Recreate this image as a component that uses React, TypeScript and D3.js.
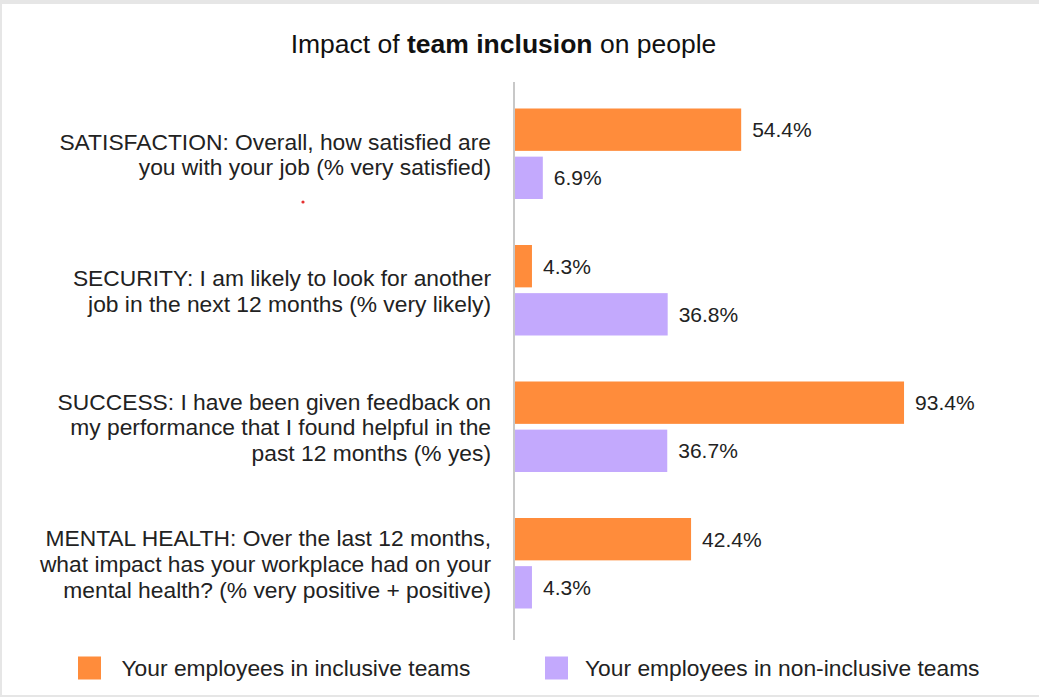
import React from "react";
import * as d3 from "d3";

const categories = ["SATISFACTION", "SECURITY", "SUCCESS", "MENTAL HEALTH"];
const labelLines = [
  ["SATISFACTION: Overall, how satisfied are", "you with your job (% very satisfied)"],
  ["SECURITY: I am likely to look for another", "job in the next 12 months (% very likely)"],
  ["SUCCESS: I have been given feedback on", "my performance that I found helpful in the", "past 12 months (% yes)"],
  ["MENTAL HEALTH: Over the last 12 months,", "what impact has your workplace had on your", "mental health? (% very positive + positive)"],
];
const seriesNames = ["Your employees in inclusive teams", "Your employees in non-inclusive teams"];
const inclusive = [54.4, 4.3, 93.4, 42.4];
const nonInclusive = [6.9, 36.8, 36.7, 4.3];
const colors = ["#ff8c3b", "#c3a9fd"];

const W = 1039;
const H = 697;
const FONT = "'Liberation Sans', Arial, Helvetica, sans-serif";

export default function App() {
  const x = d3.scaleLinear().domain([0, 100]).range([514, 931.6]);
  const y = d3.scaleBand<string>().domain(categories).range([85.5, 631.5]);
  const step = y.step();
  const groupH = 90.5;
  const inner = d3
    .scaleBand<number>()
    .domain([0, 1])
    .range([(step - groupH) / 2, (step + groupH) / 2])
    .paddingInner(0.12);
  const series = [inclusive, nonInclusive];
  const textColor = "#222";
  const lineGap = 25.8;

  return (
    <svg
      width={W}
      height={H}
      style={{ position: "absolute", left: 0, top: 0, background: "#fff" }}
      fontFamily={FONT}
    >
      {/* frame */}
      <rect x={0} y={0} width={W} height={4} fill="#e6e6e6" />
      <rect x={0} y={0} width={2} height={H} fill="#e6e6e6" />
      <rect x={0} y={695} width={W} height={2} fill="#e6e6e6" />

      {/* title */}
      <text x={503.5} y={53} textAnchor="middle" fontSize={26.5} fill="#111">
        Impact of <tspan fontWeight="bold">team inclusion</tspan> on people
      </text>

      {/* bars */}
      {categories.map((c, ci) => {
        const y0 = y(c)!;
        return (
          <g key={c}>
            {series.map((vals, si) => {
              const by = y0 + inner(si)!;
              const bh = inner.bandwidth();
              return (
                <g key={si}>
                  <rect
                    x={x(0)}
                    y={by}
                    width={x(vals[ci]) - x(0)}
                    height={bh}
                    fill={colors[si]}
                  />
                  <text
                    x={x(vals[ci]) + 11}
                    y={by + bh / 2 + 7.5}
                    fontSize={21}
                    fill={textColor}
                  >
                    {vals[ci].toFixed(1)}%
                  </text>
                </g>
              );
            })}
          </g>
        );
      })}

      {/* axis line */}
      <line x1={x(0)} x2={x(0)} y1={82} y2={640} stroke="#c8c8c8" strokeWidth={2} />

      {/* category labels */}
      {categories.map((c, ci) => {
        const center = y(c)! + step / 2;
        const lines = labelLines[ci];
        const n = lines.length;
        return (
          <text key={c} textAnchor="end" fontSize={22.8} fill={textColor}>
            {lines.map((l, li) => (
              <tspan key={li} x={491} y={center + (li - (n - 1) / 2) * lineGap + 8.7}>
                {l}
              </tspan>
            ))}
          </text>
        );
      })}

      {/* artifact dot */}
      <circle cx={303} cy={202} r={1.6} fill="#e53030" />

      {/* legend */}
      {seriesNames.map((s, i) => {
        const lx = [78, 545][i];
        const tx = [121.5, 585][i];
        return (
          <g key={s}>
            <rect x={lx} y={656.5} width={23} height={23} fill={colors[i]} />
            <text x={tx} y={676} fontSize={22.8} fill={textColor}>
              {s}
            </text>
          </g>
        );
      })}
    </svg>
  );
}
